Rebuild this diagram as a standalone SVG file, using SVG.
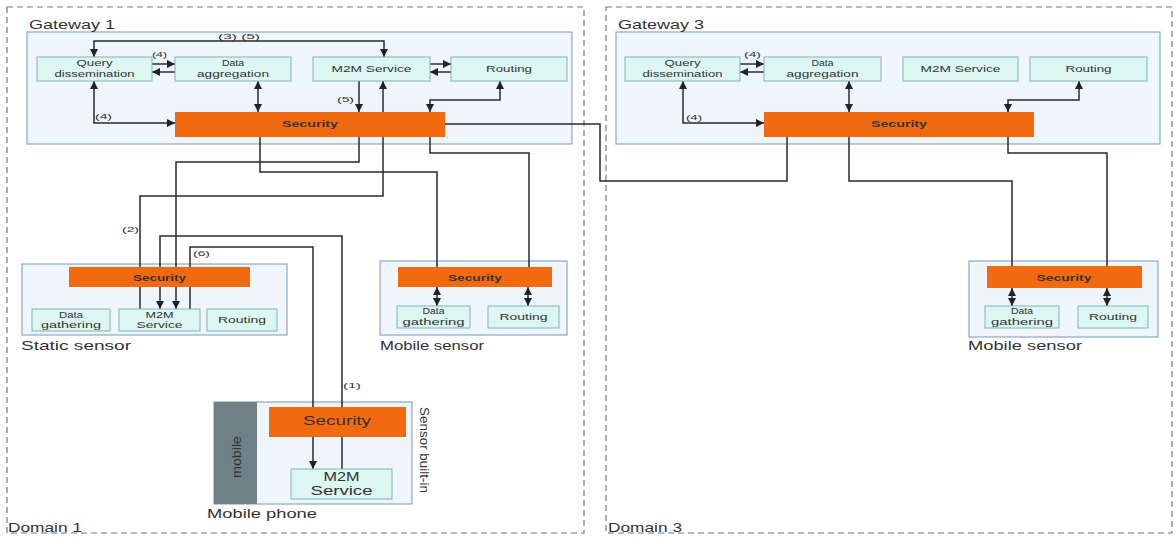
<svg xmlns="http://www.w3.org/2000/svg" width="1176" height="538" viewBox="0 0 1176 538">
<style>
.dom{fill:none;stroke:#777;stroke-width:1.2;stroke-dasharray:6 4}
.gw{fill:#eef5fb;stroke:#8aa8c4;stroke-width:1.2}
.box{fill:#dcf6f2;stroke:#84b4ad;stroke-width:1}
.sec{fill:#f26a10}
.t{font-family:"Liberation Sans",Arial,sans-serif;fill:#333}
.s9{font-size:9px}
.s8{font-size:8px}
.s13{font-size:13px}
.m{text-anchor:middle}
.c{fill:none;stroke:#2a2a2a;stroke-width:1.5}
.a{marker-end:url(#ah)}
.b{marker-start:url(#ah);marker-end:url(#ah)}
</style>
<defs>
<marker id="ah" markerUnits="userSpaceOnUse" markerWidth="8" markerHeight="8" viewBox="0 0 8 8" refX="8" refY="4" orient="auto-start-reverse"><path d="M0,0 L8,4 L0,8 z" fill="#222"/></marker>
</defs>
<rect width="1176" height="538" fill="#fff"/>

<g id="domain1"><rect class="dom" x="7" y="7" width="577" height="526"/><text class="t s13" x="8" y="532" textLength="74" lengthAdjust="spacingAndGlyphs">Domain 1</text></g>
<g id="domain3"><rect class="dom" x="606" y="7" width="566" height="526"/><text class="t s13" x="608" y="532" textLength="74" lengthAdjust="spacingAndGlyphs">Domain 3</text></g>

<g id="gateway1"><rect class="gw" x="27" y="32" width="545" height="112"/><text class="t" font-size="12" x="29" y="29" textLength="86" lengthAdjust="spacingAndGlyphs">Gateway 1</text></g>
<g id="gateway3"><rect class="gw" x="616" y="32" width="544" height="112"/><text class="t" font-size="12" x="618" y="29" textLength="86" lengthAdjust="spacingAndGlyphs">Gateway 3</text></g>
<g id="static-sensor"><rect class="gw" x="22" y="264" width="265" height="71"/><text class="t s13" x="21" y="350" textLength="110" lengthAdjust="spacingAndGlyphs">Static sensor</text></g>
<g id="mobile-sensor1"><rect class="gw" x="380" y="261" width="187" height="74"/><text class="t s13" x="380" y="350" textLength="104" lengthAdjust="spacingAndGlyphs">Mobile sensor</text></g>
<g id="mobile-sensor3"><rect class="gw" x="969" y="261" width="189" height="76"/><text class="t s13" x="968" y="350" textLength="114" lengthAdjust="spacingAndGlyphs">Mobile sensor</text></g>
<g id="mobile-phone"><rect class="gw" x="214" y="402" width="198" height="102"/><rect x="214" y="402" width="43" height="102" fill="#6f8187"/><text class="t s13" x="207" y="518" textLength="110" lengthAdjust="spacingAndGlyphs">Mobile phone</text><text class="t s13 m" transform="translate(241,457) rotate(-90)" x="0" y="0" fill="#222" textLength="42" lengthAdjust="spacingAndGlyphs">mobile</text><text class="t s13 m" transform="translate(420,450) rotate(90)" x="0" y="0" textLength="86" lengthAdjust="spacingAndGlyphs">Sensor built-in</text></g>

<g id="connectors">
<path class="c b" d="M94,57 V41 H384 V57"/>
<path class="c a" d="M152,64 H175"/>
<path class="c a" d="M175,72 H152"/>
<path class="c b" d="M258,81 V112"/>
<path class="c b" d="M94,81 V123 H175"/>
<path class="c a" d="M430,64 H451"/>
<path class="c a" d="M451,72 H430"/>
<path class="c b" d="M500,81 V100 H430 V112"/>
<path class="c a" d="M359,81 V112"/>
<path class="c a" d="M140,309 V196 H383 V81"/>
<path class="c a" d="M359,137 V162 H176 V309"/>
<path class="c" d="M260,137 V172 H437 V267"/>
<path class="c" d="M430,137 V153 H529 V267"/>
<path class="c a" d="M342,469 V236 H160 V309"/>
<path class="c a" d="M190,309 V247 H313 V469"/>
<path class="c" d="M445,124 H600 V181 H787 V137"/>
<path class="c a" d="M740,64 H764"/>
<path class="c a" d="M764,72 H740"/>
<path class="c b" d="M849,81 V112"/>
<path class="c b" d="M683,81 V123 H764"/>
<path class="c b" d="M1079,81 V100 H1008 V112"/>
<path class="c" d="M849,137 V181 H1012 V266"/>
<path class="c" d="M1008,137 V153 H1107 V266"/>
<path class="c b" d="M437,287 V306"/>
<path class="c b" d="M528,287 V306"/>
<path class="c b" d="M1012,288 V306"/>
<path class="c b" d="M1107,288 V306"/>
<text class="t s8" x="218" y="39" textLength="42" lengthAdjust="spacingAndGlyphs">(3) (5)</text>
<text class="t s8" x="152" y="57" textLength="15" lengthAdjust="spacingAndGlyphs">(4)</text>
<text class="t s8" x="95" y="119" textLength="17" lengthAdjust="spacingAndGlyphs">(4)</text>
<text class="t s8" x="337" y="102" textLength="17" lengthAdjust="spacingAndGlyphs">(5)</text>
<text class="t s8" x="744" y="57" textLength="17" lengthAdjust="spacingAndGlyphs">(4)</text>
<text class="t s8" x="686" y="120" textLength="16" lengthAdjust="spacingAndGlyphs">(4)</text>
<text class="t s8" x="122" y="232" textLength="17" lengthAdjust="spacingAndGlyphs">(2)</text>
<text class="t s8" x="193" y="256" textLength="17" lengthAdjust="spacingAndGlyphs">(6)</text>
<text class="t s8" x="343" y="388" textLength="18" lengthAdjust="spacingAndGlyphs">(1)</text>
</g>

<g id="gw1-query"><rect class="box" x="37" y="57" width="115" height="24"/><text class="t s9 m" x="94.5" y="66" textLength="36" lengthAdjust="spacingAndGlyphs">Query</text><text class="t s9 m" x="94.5" y="77" textLength="80" lengthAdjust="spacingAndGlyphs">dissemination</text></g>
<g id="gw1-aggregation"><rect class="box" x="175" y="57" width="116" height="24"/><text class="t s9 m" x="233" y="66" textLength="22" lengthAdjust="spacingAndGlyphs">Data</text><text class="t s9 m" x="233" y="77" textLength="72" lengthAdjust="spacingAndGlyphs">aggregation</text></g>
<g id="gw1-m2m"><rect class="box" x="313" y="57" width="117" height="24"/><text class="t s9 m" x="371.5" y="72" textLength="80" lengthAdjust="spacingAndGlyphs">M2M Service</text></g>
<g id="gw1-routing"><rect class="box" x="451" y="57" width="116" height="24"/><text class="t s9 m" x="509" y="72" textLength="46" lengthAdjust="spacingAndGlyphs">Routing</text></g>
<g id="gw1-security"><rect class="sec" x="175" y="112" width="270" height="25"/><text class="t s9 m" x="310" y="127" font-weight="bold" fill="#3a1a00" textLength="56" lengthAdjust="spacingAndGlyphs">Security</text></g>

<g id="gw3-query"><rect class="box" x="625" y="57" width="115" height="24"/><text class="t s9 m" x="682.5" y="66" textLength="36" lengthAdjust="spacingAndGlyphs">Query</text><text class="t s9 m" x="682.5" y="77" textLength="80" lengthAdjust="spacingAndGlyphs">dissemination</text></g>
<g id="gw3-aggregation"><rect class="box" x="764" y="57" width="117" height="24"/><text class="t s9 m" x="822.5" y="66" textLength="22" lengthAdjust="spacingAndGlyphs">Data</text><text class="t s9 m" x="822.5" y="77" textLength="72" lengthAdjust="spacingAndGlyphs">aggregation</text></g>
<g id="gw3-m2m"><rect class="box" x="903" y="57" width="115" height="24"/><text class="t s9 m" x="960.5" y="72" textLength="80" lengthAdjust="spacingAndGlyphs">M2M Service</text></g>
<g id="gw3-routing"><rect class="box" x="1030" y="57" width="117" height="24"/><text class="t s9 m" x="1088.5" y="72" textLength="46" lengthAdjust="spacingAndGlyphs">Routing</text></g>
<g id="gw3-security"><rect class="sec" x="764" y="112" width="270" height="25"/><text class="t s9 m" x="899" y="127" font-weight="bold" fill="#3a1a00" textLength="56" lengthAdjust="spacingAndGlyphs">Security</text></g>

<g id="ss-security"><rect class="sec" x="69" y="267" width="181" height="20"/><text class="t s9 m" x="159.5" y="281" font-weight="bold" fill="#3a1a00" textLength="53" lengthAdjust="spacingAndGlyphs">Security</text></g>
<g id="ss-gathering"><rect class="box" x="32" y="309" width="78" height="22"/><text class="t s9 m" x="71" y="318" textLength="24" lengthAdjust="spacingAndGlyphs">Data</text><text class="t s9 m" x="71" y="328" textLength="60" lengthAdjust="spacingAndGlyphs">gathering</text></g>
<g id="ss-m2m"><rect class="box" x="119" y="309" width="81" height="22"/><text class="t s9 m" x="159.5" y="318" textLength="28" lengthAdjust="spacingAndGlyphs">M2M</text><text class="t s9 m" x="159.5" y="328" textLength="46" lengthAdjust="spacingAndGlyphs">Service</text></g>
<g id="ss-routing"><rect class="box" x="207" y="309" width="70" height="22"/><text class="t s9 m" x="242" y="323" textLength="48" lengthAdjust="spacingAndGlyphs">Routing</text></g>

<g id="ms1-security"><rect class="sec" x="398" y="267" width="154" height="20"/><text class="t s9 m" x="475" y="281" font-weight="bold" fill="#3a1a00" textLength="54" lengthAdjust="spacingAndGlyphs">Security</text></g>
<g id="ms1-gathering"><rect class="box" x="397" y="306" width="73" height="22"/><text class="t s9 m" x="433.5" y="314" textLength="22" lengthAdjust="spacingAndGlyphs">Data</text><text class="t s9 m" x="433.5" y="325" textLength="62" lengthAdjust="spacingAndGlyphs">gathering</text></g>
<g id="ms1-routing"><rect class="box" x="488" y="306" width="71" height="22"/><text class="t s9 m" x="523.5" y="320" textLength="48" lengthAdjust="spacingAndGlyphs">Routing</text></g>

<g id="ms3-security"><rect class="sec" x="987" y="266" width="155" height="22"/><text class="t s9 m" x="1064" y="281" font-weight="bold" fill="#3a1a00" textLength="55" lengthAdjust="spacingAndGlyphs">Security</text></g>
<g id="ms3-gathering"><rect class="box" x="985" y="306" width="74" height="22"/><text class="t s9 m" x="1022" y="314" textLength="22" lengthAdjust="spacingAndGlyphs">Data</text><text class="t s9 m" x="1022" y="325" textLength="62" lengthAdjust="spacingAndGlyphs">gathering</text></g>
<g id="ms3-routing"><rect class="box" x="1078" y="306" width="70" height="22"/><text class="t s9 m" x="1113" y="320" textLength="48" lengthAdjust="spacingAndGlyphs">Routing</text></g>

<g id="mp-security"><rect class="sec" x="269" y="407" width="137" height="30"/><text class="t s13 m" x="337" y="425" fill="#2a1200" textLength="68" lengthAdjust="spacingAndGlyphs">Security</text></g>
<g id="mp-m2m"><rect class="box" x="291" y="469" width="101" height="30"/><text class="t s13 m" x="341.5" y="481" textLength="36" lengthAdjust="spacingAndGlyphs">M2M</text><text class="t s13 m" x="341.5" y="495" textLength="62" lengthAdjust="spacingAndGlyphs">Service</text></g>
</svg>
